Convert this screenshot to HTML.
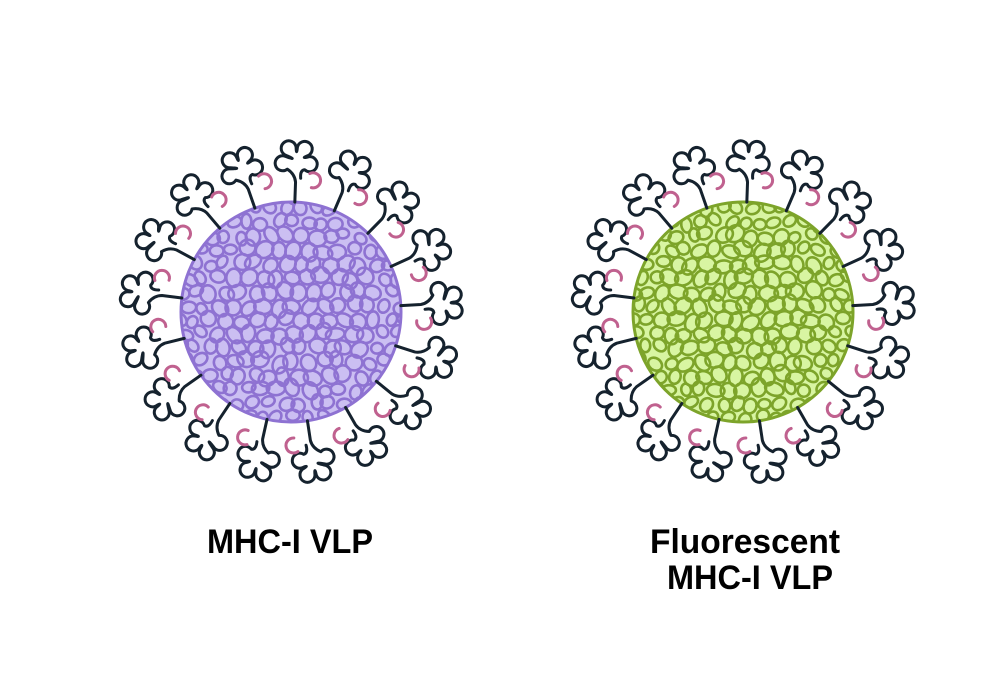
<!DOCTYPE html>
<html><head><meta charset="utf-8"><style>
html,body{margin:0;padding:0;background:#fff;width:1000px;height:684px;overflow:hidden}
svg{display:block}
text{font-family:"Liberation Sans",Arial,sans-serif;font-weight:bold;fill:#000}
</style></head><body>
<svg id="s" width="1000" height="684" viewBox="0 0 1000 684">
<defs>
<clipPath id="c1"><circle cx="291" cy="312" r="109"/></clipPath>
<clipPath id="c2"><circle cx="743" cy="312" r="109"/></clipPath>
</defs>
<g id="left"></g>
<g id="right"></g>
<text x="207" y="553" font-size="34" textLength="166" lengthAdjust="spacingAndGlyphs">MHC-I VLP</text>
<text x="650" y="553" font-size="34" textLength="190" lengthAdjust="spacingAndGlyphs">Fluorescent</text>
<text x="667" y="589" font-size="34" textLength="166" lengthAdjust="spacingAndGlyphs">MHC-I VLP</text>
</svg>
<script>
var NS="http://www.w3.org/2000/svg";
var seed=7;function rnd(){seed=(seed*16807)%2147483647;return seed/2147483647;}
function el(t,a,p){var e=document.createElementNS(NS,t);for(var k in a)e.setAttribute(k,a[k]);p.appendChild(e);return e;}
function f(v){return v.toFixed(2);}
function clover(){
  var cy=-152, D=14, R=7.5, ang=[165,-125,-55,15];
  var rad=Math.PI/180;
  var d="M0,-110 L0,-130 Q-1,-138 ";
  for(var k=0;k<4;k++){
    var p=ang[k]*rad, cx0=D*Math.cos(p), cy0=cy+D*Math.sin(p);
    var s=p-115*rad, e=p+115*rad;
    var sx=cx0+R*Math.cos(s), sy=cy0+R*Math.sin(s), ex=cx0+R*Math.cos(e), ey=cy0+R*Math.sin(e);
    if(k==0) d+=f(sx)+","+f(sy)+" ";
    else { var m=(ang[k-1]+ang[k])/2*rad; d+="Q"+f(4*Math.cos(m))+","+f(cy+4*Math.sin(m))+" "+f(sx)+","+f(sy)+" "; }
    d+="A"+R+","+R+" 0 1 1 "+f(ex)+","+f(ey)+" ";
  }
  d+="Q4,-142 5,-134";
  return d;
}
var cl=clover();
function vlp(g,cx,cy,fill,stroke,clip){
  el("circle",{cx:cx,cy:cy,r:110,fill:fill,stroke:stroke,"stroke-width":3},g);
  var cg=el("g",{"clip-path":"url(#"+clip+")",fill:"none",stroke:stroke,"stroke-width":2.6},g);
  for(var y=cy-118;y<cy+120;y+=14){for(var x=cx-118;x<cx+120;x+=15){
    var px=x+(rnd()-0.5)*6+((Math.round((y-cy)/14))%2?7:0),py=y+(rnd()-0.5)*6;
    var dd=Math.hypot(px-cx,py-cy);if(dd>122)continue;
    var sc=dd>85?0.8:1;
    el("ellipse",{cx:px,cy:py,rx:(7.5+rnd()*2)*sc,ry:(6+rnd()*2)*sc,transform:"rotate("+(rnd()*180)+" "+px+" "+py+")"},cg);
  }}
  for(var i=0;i<17;i++){
    var a=-88+i*360/17;
    var mg=el("g",{transform:"translate("+cx+","+cy+") rotate("+(a+90)+")"},g);
    el("path",{d:cl,fill:"none",stroke:"#15222e","stroke-width":3,"stroke-linecap":"round","stroke-linejoin":"round"},mg);
    el("path",{d:"M10,-142 A7.5,7.5 0 1 1 12,-128",fill:"none",stroke:"#c0618f","stroke-width":3,"stroke-linecap":"round","transform":"translate(4,3)"},mg);
  }
}
vlp(document.getElementById("left"),291,312,"#cbbff2","#8e72d2","c1");
vlp(document.getElementById("right"),743,312,"#d8f5a2","#7da42a","c2");
</script>
</body></html>
